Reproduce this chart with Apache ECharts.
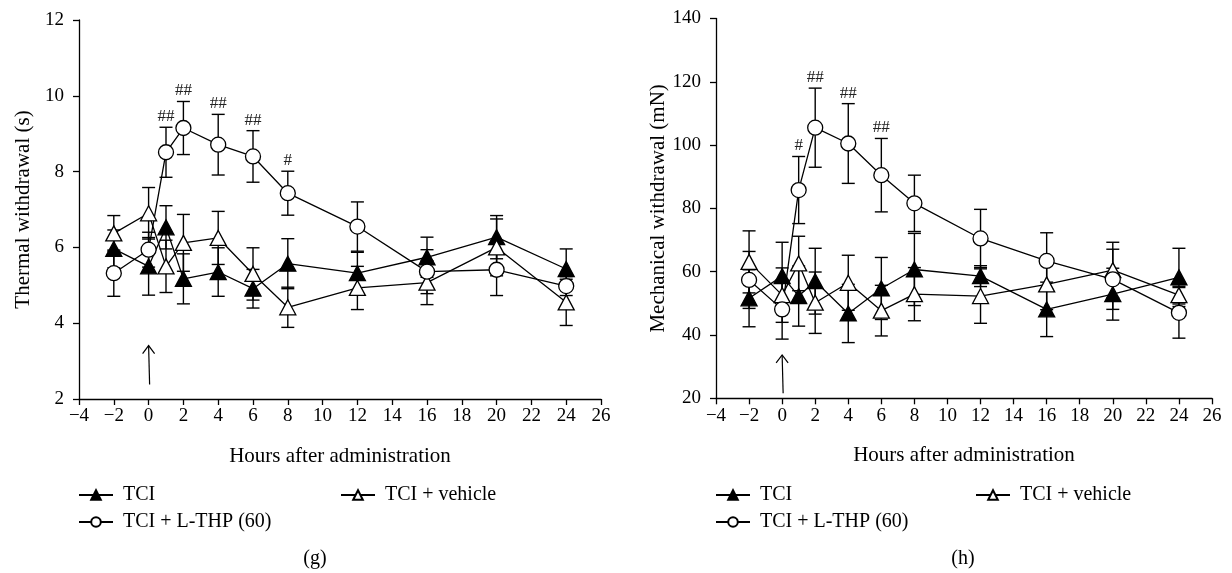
<!DOCTYPE html>
<html>
<head>
<meta charset="utf-8">
<script src="https://cdn.jsdelivr.net/npm/echarts@6/dist/echarts.min.js"></script>
<style>html,body{margin:0;padding:0;background:#fff}#c{width:1232px;height:573px}</style>
</head>
<body>
<div id="c"></div>
<script>
// ---------- data ----------
const hours = [-2, 0, 1, 2, 4, 6, 8, 12, 16, 20, 24];

const thermalTCI      = [5.96, 5.50, 6.53, 5.17, 5.35, 4.91, 5.57, 5.32, 5.74, 6.27, 5.43];
const thermalTCIse    = [0.50, 0.76, 0.57, 0.66, 0.64, 0.51, 0.66, 0.55, 0.53, 0.57, 0.53];
const thermalVeh      = [6.37, 6.90, 5.50, 6.12, 6.25, 5.30, 4.42, 4.93, 5.07, 6.00, 4.55];
const thermalVehse    = [0.47, 0.68, 0.69, 0.75, 0.70, 0.69, 0.53, 0.57, 0.58, 0.75, 0.61];
const thermalTHP      = [5.32, 5.94, 8.51, 9.15, 8.71, 8.40, 7.43, 6.55, 5.36, 5.41, 4.98];
const thermalTHPse    = [0.61, 0.46, 0.66, 0.70, 0.80, 0.68, 0.58, 0.65, 0.58, 0.68, 0.25];

const mechTCI         = [51.6, 58.6, 52.3, 57.0, 46.8, 54.7, 60.7, 58.6, 48.1, 52.9, 58.2];
const mechTCIse       = [9.0, 10.7, 9.5, 10.4, 9.2, 9.8, 11.4, 3.3, 8.6, 8.2, 9.2];
const mechVeh         = [63.1, 52.6, 62.6, 50.2, 56.5, 47.7, 52.9, 52.3, 56.0, 60.5, 52.6];
const mechVehse       = [9.8, 8.6, 8.6, 9.7, 8.7, 8.0, 8.4, 8.6, 8.0, 8.8, 2.8];
const mechTHP         = [57.4, 48.1, 85.8, 105.5, 100.5, 90.5, 81.6, 70.5, 63.4, 57.6, 47.0];
const mechTHPse       = [9.0, 9.4, 10.6, 12.5, 12.6, 11.6, 8.9, 9.2, 8.9, 9.5, 8.0];

const thermalSig      = ['', '', '##', '##', '##', '##', '#', '', '', '', ''];
const mechSig         = ['', '', '#', '##', '##', '##', '', '', '', '', ''];

const arrowThermal    = [0, 2.38, 3.41];
const arrowMech       = [0, 21.6, 33.7];

const xMin = -4, xMax = 26, xStep = 2;
const thermalY = {min: 2, max: 12, step: 2};
const mechY    = {min: 20, max: 140, step: 20};

const names = ['TCI', 'TCI + vehicle', 'TCI + L-THP (60)'];
const panelLabels = ['(g)', '(h)'];
const xTitle = 'Hours after administration';
const yTitles = ['Thermal withdrawal (s)', 'Mechanical withdrawal (mN)'];

// ---------- chart ----------
const FONT = 'Liberation Serif';
const BLACK = '#000';
const chart = echarts.init(document.getElementById('c'));

function fmt(v) { return String(v).replace('-', '\u2212'); }

function xAxisCfg(gi) {
  return {
    type: 'value', gridIndex: gi, min: xMin, max: xMax, interval: xStep,
    name: xTitle, nameLocation: 'middle', nameGap: 47,
    nameTextStyle: {fontFamily: FONT, fontSize: 21, color: BLACK},
    axisLine: {onZero: false, lineStyle: {color: BLACK, width: 1.3}},
    axisTick: {length: 6, lineStyle: {color: BLACK, width: 1.3}},
    axisLabel: {fontFamily: FONT, fontSize: 19, color: BLACK, margin: 8, formatter: fmt},
    splitLine: {show: false}
  };
}
function yAxisCfg(gi, cfg, title) {
  return {
    type: 'value', gridIndex: gi, min: cfg.min, max: cfg.max, interval: cfg.step,
    name: title, nameLocation: 'middle', nameGap: 45, nameRotate: 90,
    nameTextStyle: {fontFamily: FONT, fontSize: 21, color: BLACK},
    axisLine: {show: true, onZero: false, lineStyle: {color: BLACK, width: 1.3}},
    axisTick: {show: true, length: 6, lineStyle: {color: BLACK, width: 1.3}},
    axisLabel: {fontFamily: FONT, fontSize: 19, color: BLACK, margin: 15},
    splitLine: {show: false}
  };
}

function lineSeries(gi, name, vals, filled, symbol) {
  return {
    type: 'line', name: name, xAxisIndex: gi, yAxisIndex: gi,
    data: hours.map((h, i) => [h, vals[i]]),
    symbol: symbol, symbolSize: symbol === 'circle' ? 15 : [16, 15],
    showAllSymbol: true,
    lineStyle: {color: BLACK, width: 1.3},
    itemStyle: {color: filled ? BLACK : '#fff', borderColor: BLACK, borderWidth: 1.3},
    emphasis: {disabled: true},
    z: 3, animation: false
  };
}

function errSeries(gi, vals, se) {
  return {
    type: 'custom', xAxisIndex: gi, yAxisIndex: gi, silent: true, z: 2, animation: false,
    data: hours.map((h, i) => [h, vals[i], se[i]]),
    renderItem: function (params, api) {
      const x = api.value(0), y = api.value(1), e = api.value(2);
      const lo = api.coord([x, y - e]), hi = api.coord([x, y + e]);
      const w = 6.5;
      const st = {stroke: BLACK, lineWidth: 1.4};
      return {type: 'group', children: [
        {type: 'line', shape: {x1: lo[0], y1: lo[1], x2: hi[0], y2: hi[1]}, style: st},
        {type: 'line', shape: {x1: lo[0] - w, y1: lo[1], x2: lo[0] + w, y2: lo[1]}, style: st},
        {type: 'line', shape: {x1: hi[0] - w, y1: hi[1], x2: hi[0] + w, y2: hi[1]}, style: st}
      ]};
    }
  };
}

function sigSeries(gi, vals, se, sig) {
  return {
    type: 'custom', xAxisIndex: gi, yAxisIndex: gi, silent: true, z: 4, animation: false,
    data: hours.map((h, i) => [h, vals[i] + se[i], i]),
    renderItem: function (params, api) {
      const idx = api.value(2);
      const t = sig[idx];
      if (!t) return null;
      const p = api.coord([api.value(0), api.value(1)]);
      return {type: 'text', style: {text: t, x: p[0], y: p[1] - 2, align: 'center', verticalAlign: 'bottom',
        font: '17px "' + FONT + '"', fill: '#222'}};
    }
  };
}

function arrowSeries(gi, a) {
  return {
    type: 'custom', xAxisIndex: gi, yAxisIndex: gi, silent: true, z: 4, animation: false,
    data: [a],
    renderItem: function (params, api) {
      const b = api.coord([api.value(0), api.value(1)]);
      const t = api.coord([api.value(0), api.value(2)]);
      const st = {stroke: BLACK, lineWidth: 1.2, fill: null};
      return {type: 'group', children: [
        {type: 'line', shape: {x1: b[0] + 1, y1: b[1], x2: t[0], y2: t[1]}, style: st},
        {type: 'polyline', shape: {points: [[t[0] - 6, t[1] + 8], [t[0], t[1]], [t[0] + 6, t[1] + 8]]}, style: st}
      ]};
    }
  };
}

function legendCfg(name, left, top) {
  return {
    data: [name], left: left, top: top, itemWidth: 34, itemHeight: 12, itemGap: 10,
    selectedMode: false, padding: 0,
    textStyle: {fontFamily: FONT, fontSize: 20, color: BLACK, padding: [0, 0, 0, 5]}
  };
}

const option = {
  animation: false,
  backgroundColor: '#fff',
  grid: [
    {left: 79, right: 631, top: 20, bottom: 174, containLabel: false},
    {left: 716, right: 20, top: 18.5, bottom: 174.7, containLabel: false}
  ],
  xAxis: [xAxisCfg(0), xAxisCfg(1)],
  yAxis: [yAxisCfg(0, thermalY, yTitles[0]), yAxisCfg(1, mechY, yTitles[1])],
  legend: [
    legendCfg(names[0], 78, 485), legendCfg(names[1], 340, 485), legendCfg(names[2], 78, 512),
    legendCfg(names[0], 715, 485), legendCfg(names[1], 975, 485), legendCfg(names[2], 715, 512)
  ],
  title: [
    {text: panelLabels[0], left: 315, top: 549, textAlign: 'center', padding: 0, textStyle: {fontFamily: FONT, fontSize: 20, fontWeight: 'normal', color: BLACK}},
    {text: panelLabels[1], left: 963, top: 549, textAlign: 'center', padding: 0, textStyle: {fontFamily: FONT, fontSize: 20, fontWeight: 'normal', color: BLACK}}
  ],
  series: [
    errSeries(0, thermalTCI, thermalTCIse),
    errSeries(0, thermalVeh, thermalVehse),
    errSeries(0, thermalTHP, thermalTHPse),
    lineSeries(0, names[0], thermalTCI, true, 'triangle'),
    lineSeries(0, names[1], thermalVeh, false, 'triangle'),
    lineSeries(0, names[2], thermalTHP, false, 'circle'),
    sigSeries(0, thermalTHP, thermalTHPse, thermalSig),
    arrowSeries(0, arrowThermal),

    errSeries(1, mechTCI, mechTCIse),
    errSeries(1, mechVeh, mechVehse),
    errSeries(1, mechTHP, mechTHPse),
    lineSeries(1, names[0], mechTCI, true, 'triangle'),
    lineSeries(1, names[1], mechVeh, false, 'triangle'),
    lineSeries(1, names[2], mechTHP, false, 'circle'),
    sigSeries(1, mechTHP, mechTHPse, mechSig),
    arrowSeries(1, arrowMech)
  ]
};
chart.setOption(option);
</script>
</body>
</html>
